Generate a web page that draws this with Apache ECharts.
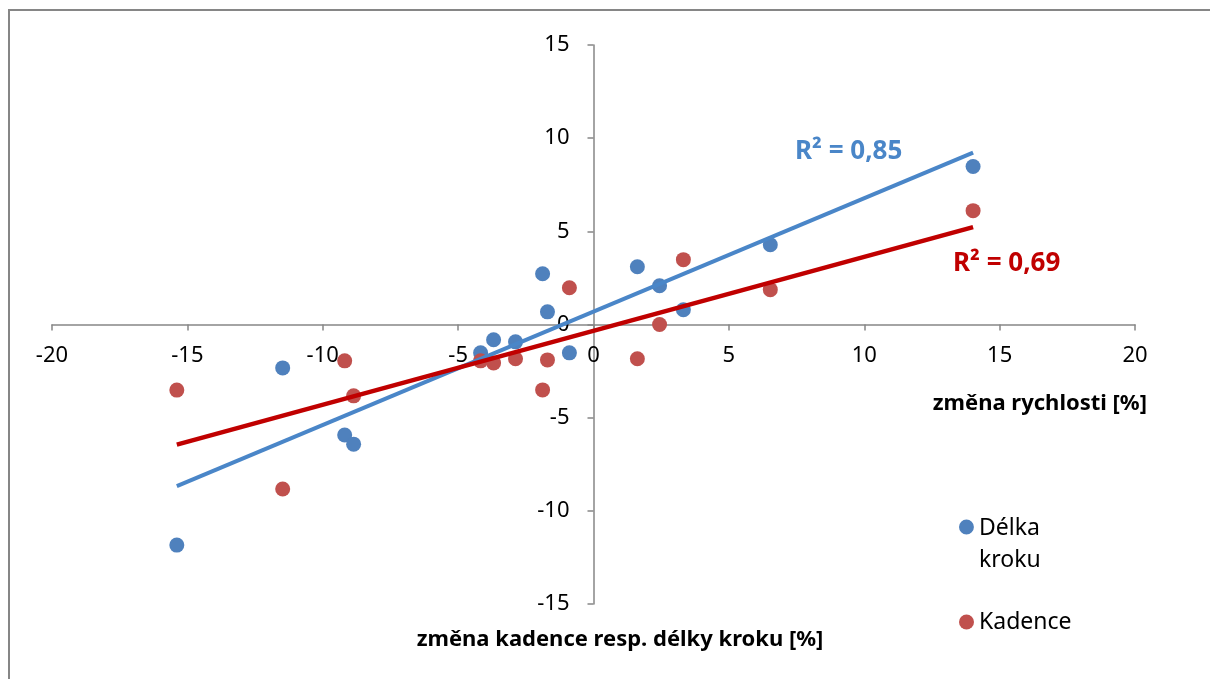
<!DOCTYPE html>
<html>
<head>
<meta charset="utf-8">
<script src="https://cdn.jsdelivr.net/npm/echarts@6/dist/echarts.min.js"></script>
<style>
  html, body { margin: 0; padding: 0; background: #fff; }
  #chart { width: 1210px; height: 679px; }
</style>
</head>
<body>
<div id="chart"></div>
<script>
// Změna rychlosti [%] – společná osa x pro obě řady
const zmenaRychlosti = [-15.39, -11.48, -9.19, -8.86, -4.17, -3.69, -2.88, -1.88, -1.70, -0.89, 1.62, 2.44, 3.32, 6.53, 14.02];
// Změna délky kroku [%]
const delkaKroku = [-11.84, -2.33, -5.93, -6.42, -1.52, -0.82, -0.93, 2.72, 0.68, -1.52, 3.10, 2.08, 0.79, 4.28, 8.48];
// Změna kadence [%]
const kadence = [-3.52, -8.83, -1.95, -3.83, -1.95, -2.06, -1.84, -3.51, -1.90, 1.97, -1.84, 0.00, 3.48, 1.87, 6.11];

const seriesNames = ['Délka kroku', 'Kadence'];
const xTicks = { min: -20, max: 20, interval: 5 };
const yTicks = { min: -15, max: 15, interval: 5 };

// lineární regrese (spojnice trendu) a koeficient determinace
function linearFit(xs, ys) {
  const n = xs.length;
  const mx = xs.reduce((a, b) => a + b, 0) / n;
  const my = ys.reduce((a, b) => a + b, 0) / n;
  let sxy = 0, sxx = 0, syy = 0;
  for (let i = 0; i < n; i++) {
    const dx = xs[i] - mx, dy = ys[i] - my;
    sxy += dx * dy; sxx += dx * dx; syy += dy * dy;
  }
  const slope = sxy / sxx;
  const intercept = my - slope * mx;
  const r2 = (sxy * sxy) / (sxx * syy);
  const x0 = Math.min(...xs), x1 = Math.max(...xs);
  return { r2, line: [[x0, intercept + slope * x0], [x1, intercept + slope * x1]] };
}

const fitDelka = linearFit(zmenaRychlosti, delkaKroku);
const fitKadence = linearFit(zmenaRychlosti, kadence);
const r2Text = r => 'R² = ' + r.toFixed(2).replace('.', ',');

const pairs = ys => zmenaRychlosti.map((x, i) => [x, ys[i]]);

const W = 1210, H = 679;
const grid = { left: 52, right: 75, top: 45, bottom: 75 };
const gridW = W - grid.left - grid.right;
const gridH = H - grid.top - grid.bottom;
// osy se kříží v nule: posun os od okraje mřížky k nulové hodnotě
const xAxisOffset = -gridH * (0 - yTicks.min) / (yTicks.max - yTicks.min);
const yAxisOffset = -gridW * (0 - xTicks.min) / (xTicks.max - xTicks.min);

const axisGray = '#868686';
const blueMarker = '#4F81BD';
const redMarker = '#C0504D';
const blueTrend = '#4A86C8';
const redTrend = '#C00000';
const font = 'Noto Sans';

// kruhová ikona legendy zarovnaná k prvnímu řádku víceřádkového popisku
const iconTopCircle = 'path://M0,7A7,7,0,1,0,14,7A7,7,0,1,0,0,7ZM0,46L0,46Z';

const chart = echarts.init(document.getElementById('chart'), null, { renderer: 'canvas' });

chart.setOption({
  backgroundColor: '#fff',
  animation: false,
  grid: grid,
  xAxis: {
    type: 'value', position: 'bottom', offset: xAxisOffset,
    min: xTicks.min, max: xTicks.max, interval: xTicks.interval,
    axisLine: { onZero: false, lineStyle: { color: axisGray, width: 1.5 } },
    axisTick: { show: true, length: 6, lineStyle: { color: axisGray, width: 1.5 } },
    axisLabel: { margin: 20, color: '#000', fontFamily: font, fontSize: 22 },
    splitLine: { show: false }
  },
  yAxis: {
    type: 'value', position: 'left', offset: yAxisOffset,
    min: yTicks.min, max: yTicks.max, interval: yTicks.interval,
    axisLine: { onZero: false, lineStyle: { color: axisGray, width: 1.5 } },
    axisTick: { show: true, length: 6, lineStyle: { color: axisGray, width: 1.5 } },
    axisLabel: { margin: 24, color: '#000', fontFamily: font, fontSize: 22 },
    splitLine: { show: false }
  },
  legend: [
    {
      data: [{ name: seriesNames[0], icon: iconTopCircle }],
      left: 954, top: 507,
      itemWidth: 15, itemHeight: 49, itemGap: 0,
      formatter: () => 'Délka\nkroku',
      textStyle: { fontFamily: font, fontSize: 23, color: '#000', lineHeight: 32 },
      selectedMode: false
    },
    {
      data: [{ name: seriesNames[1], icon: 'circle' }],
      left: 954, top: 601,
      itemWidth: 15, itemHeight: 15,
      textStyle: { fontFamily: font, fontSize: 23, color: '#000', lineHeight: 32 },
      selectedMode: false
    }
  ],
  graphic: [
    {
      type: 'rect', silent: true, z: 0,
      shape: { x: 9, y: 10, width: 1240, height: 720 },
      style: { fill: 'none', stroke: axisGray, lineWidth: 2 }
    },
    {
      type: 'text', x: 1147, y: 404, silent: true,
      style: { text: 'změna rychlosti [%]', font: 'bold 22px "Noto Sans"', fill: '#000', align: 'right', verticalAlign: 'middle' }
    },
    {
      type: 'text', x: 620, y: 640, silent: true,
      style: { text: 'změna kadence resp. délky kroku [%]', font: 'bold 22px "Noto Sans"', fill: '#000', align: 'center', verticalAlign: 'middle' }
    },
    {
      type: 'text', x: 795, y: 152, silent: true,
      style: { text: r2Text(fitDelka.r2), font: 'bold 26px "Noto Sans"', fill: blueTrend, verticalAlign: 'middle' }
    },
    {
      type: 'text', x: 953, y: 264, silent: true,
      style: { text: r2Text(fitKadence.r2), font: 'bold 26px "Noto Sans"', fill: redTrend, verticalAlign: 'middle' }
    }
  ],
  series: [
    {
      name: seriesNames[0], type: 'scatter', symbol: 'circle', symbolSize: 15,
      itemStyle: { color: blueMarker, opacity: 1 },
      data: pairs(delkaKroku), z: 3
    },
    {
      name: seriesNames[1], type: 'scatter', symbol: 'circle', symbolSize: 15,
      itemStyle: { color: redMarker, opacity: 1 },
      data: pairs(kadence), z: 3
    },
    {
      name: 'trend-delka', type: 'line', data: fitDelka.line,
      showSymbol: false, symbol: 'none', silent: true,
      lineStyle: { color: blueTrend, width: 4 }, z: 4
    },
    {
      name: 'trend-kadence', type: 'line', data: fitKadence.line,
      showSymbol: false, symbol: 'none', silent: true,
      lineStyle: { color: redTrend, width: 4.5 }, z: 5
    }
  ]
});
</script>
</body>
</html>
